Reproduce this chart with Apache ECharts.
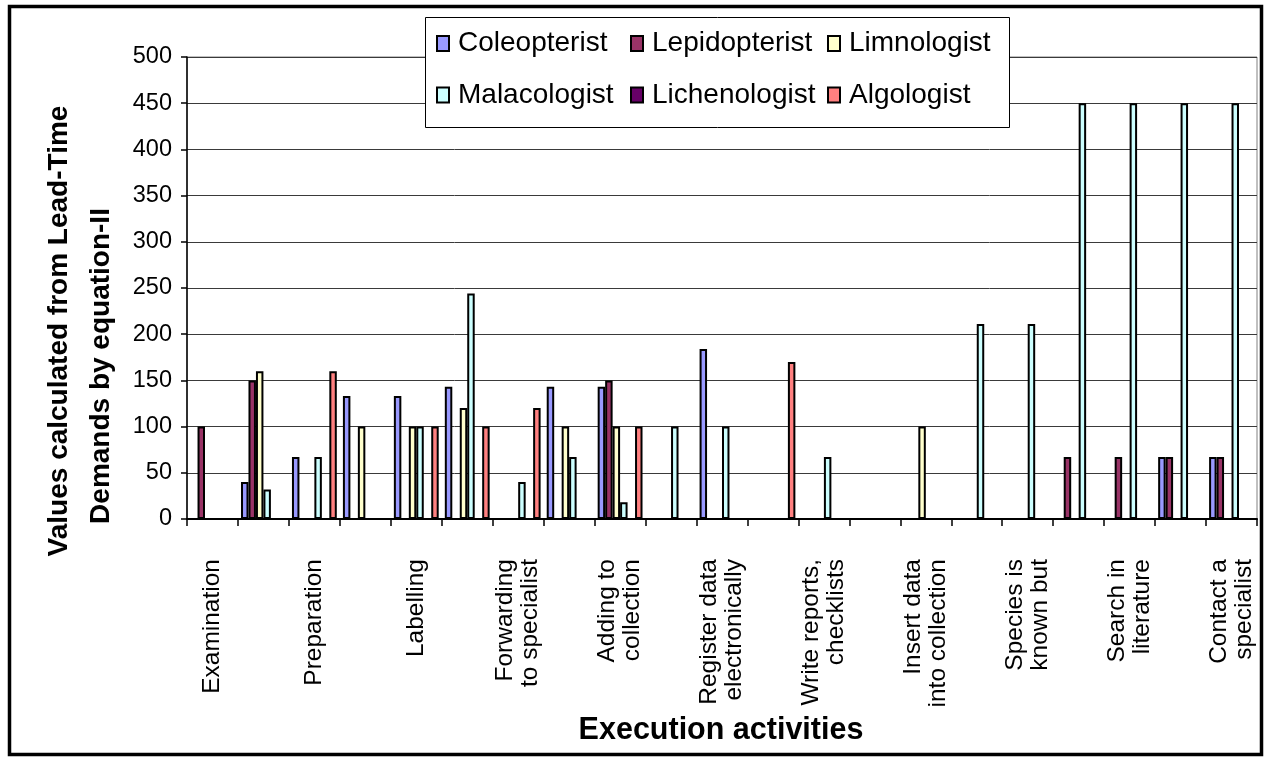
<!DOCTYPE html>
<html>
<head>
<meta charset="utf-8">
<style>
  html, body { margin: 0; padding: 0; background: #fff; }
  #chart { width: 1268px; height: 760px; }
</style>
<script src="https://cdn.jsdelivr.net/npm/echarts@6/dist/echarts.min.js"></script>
</head>
<body>
<div id="chart"></div>
<script>
// ---- data ----
const categories = [
  'Examination', '', 'Preparation', '', 'Labelling', '',
  'Forwarding\nto specialist', '', 'Adding to\ncollection', '',
  'Register data\nelectronically', '', 'Write reports,\nchecklists', '',
  'Insert data\ninto collection', '', 'Species is\nknown but', '',
  'Search in\nliterature', '', 'Contact a\nspecialist'
];
const seriesNames = ['Coleopterist', 'Lepidopterist', 'Limnologist', 'Malacologist', 'Lichenologist', 'Algologist'];
const coleopterist  = [0, 40, 67, 133, 133, 143, 0, 143, 143, 0, 184, 0, 0, 0, 0, 0, 0, 0, 0, 67, 67];
const lepidopterist = [100, 150, 0, 0, 0, 0, 0, 0, 150, 0, 0, 0, 0, 0, 0, 0, 0, 67, 67, 67, 67];
const limnologist   = [0, 160, 0, 100, 100, 120, 0, 100, 100, 0, 0, 0, 0, 0, 100, 0, 0, 0, 0, 0, 0];
const malacologist  = [0, 32, 67, 0, 100, 244, 40, 67, 18, 100, 100, 0, 67, 0, 0, 211, 211, 450, 450, 450, 450];
const lichenologist = [0, 0, 0, 0, 0, 0, 0, 0, 0, 0, 0, 0, 0, 0, 0, 0, 0, 0, 0, 0, 0];
const algologist    = [0, 0, 160, 0, 100, 100, 120, 0, 100, 0, 0, 170, 0, 0, 0, 0, 0, 0, 0, 0, 0];
const yTicks = { min: 0, max: 500, interval: 50 };
const yTitleLines = ['Values calculated from Lead-Time', 'Demands by equation-II'];
const xTitle = 'Execution activities';

// ---- style ----
const colors = ['#9999FF', '#993366', '#FFFFCC', '#CCFFFF', '#660066', '#FF8080'];
const seriesData = [coleopterist, lepidopterist, limnologist, malacologist, lichenologist, algologist];

function hasFont(name) {
  const c = document.createElement('canvas').getContext('2d');
  const s = 'Examination wWmM 0123';
  c.font = '72px monospace';
  const a = c.measureText(s).width;
  c.font = '72px "' + name + '", monospace';
  const b = c.measureText(s).width;
  return Math.abs(a - b) > 0.5;
}
const NARROW = hasFont('Liberation Sans Narrow');
const nf = NARROW ? '"Liberation Sans Narrow", "Liberation Sans", Arial, sans-serif'
                  : '"Liberation Sans", Arial, sans-serif';
const rf = '"Liberation Sans", Arial, sans-serif';
const fs = NARROW
  ? { tick: 26, cat: 29, legend: 31, title: 36, catLH: 26 }
  : { tick: 23.5, cat: 24.5, legend: 28, title: 30.5, catLH: 25 };

const legendPos = [
  { left: 436, top: 28 }, { left: 630, top: 28 }, { left: 827, top: 28 },
  { left: 436, top: 79.5 }, { left: 630, top: 79.5 }, { left: 827, top: 79.5 }
];

const chart = echarts.init(document.getElementById('chart'), null, { renderer: 'canvas' });

const option = {
  animation: false,
  backgroundColor: '#fff',
  grid: {
    left: 187, right: 11, top: 57, bottom: 241,
    show: true, borderColor: '#808080', borderWidth: 1, backgroundColor: 'transparent'
  },
  legend: seriesNames.map((n, i) => ({
    data: [n],
    left: legendPos[i].left,
    top: legendPos[i].top,
    padding: 0,
    z: 20,
    icon: 'rect',
    itemWidth: 12,
    itemHeight: 15,
    textStyle: {
      fontFamily: nf, fontSize: fs.legend, color: '#000', lineHeight: 31,
      padding: [0, 0, 0, 4]
    }
  })),
  xAxis: {
    type: 'category',
    data: categories,
    boundaryGap: true,
    axisLine: { show: true, lineStyle: { color: '#000', width: 2 } },
    axisTick: { show: true, interval: 0, length: 7, lineStyle: { color: '#000', width: 1.5 } },
    axisLabel: {
      interval: 0, rotate: 90, margin: 40,
      fontFamily: nf, fontSize: fs.cat, lineHeight: fs.catLH, color: '#000'
    },
    splitLine: { show: false }
  },
  yAxis: {
    type: 'value',
    min: yTicks.min, max: yTicks.max, interval: yTicks.interval,
    axisLine: { show: true, lineStyle: { color: '#000', width: 1.5 } },
    axisTick: { show: true, length: 6, lineStyle: { color: '#000', width: 1.5 } },
    axisLabel: { fontFamily: nf, fontSize: fs.tick, color: '#000', margin: 15 },
    splitLine: { show: true, lineStyle: { color: '#3a3a3a', width: 1 } }
  },
  series: seriesNames.map((n, i) => ({
    name: n,
    type: 'bar',
    data: seriesData[i],
    barGap: '0%',
    barCategoryGap: '12%',
    itemStyle: { color: colors[i], borderColor: '#000', borderWidth: 2 }
  })),
  graphic: [
    {
      type: 'rect', z: 1,
      shape: { x: 9.5, y: 6.5, width: 1252, height: 748 },
      style: { fill: 'none', stroke: '#000', lineWidth: 3.5 }
    },
    {
      type: 'rect', z: 10,
      shape: { x: 425.5, y: 17.5, width: 584, height: 110 },
      style: { fill: '#fff', stroke: '#000', lineWidth: 1 }
    },
    {
      type: 'text', z: 10, x: 59, y: 331, rotation: Math.PI / 2,
      style: {
        text: yTitleLines[0], font: 'bold 28px ' + rf, fill: '#000',
        align: 'center', verticalAlign: 'middle', textAlign: 'center', textVerticalAlign: 'middle'
      }
    },
    {
      type: 'text', z: 10, x: 101, y: 366, rotation: Math.PI / 2,
      style: {
        text: yTitleLines[1], font: 'bold 28px ' + rf, fill: '#000',
        align: 'center', verticalAlign: 'middle', textAlign: 'center', textVerticalAlign: 'middle'
      }
    },
    {
      type: 'text', z: 10, x: 721, y: 731,
      style: {
        text: xTitle, font: 'bold ' + fs.title + 'px ' + nf, fill: '#000',
        align: 'center', verticalAlign: 'middle', textAlign: 'center', textVerticalAlign: 'middle'
      }
    }
  ]
};
chart.setOption(option);
</script>
</body>
</html>
